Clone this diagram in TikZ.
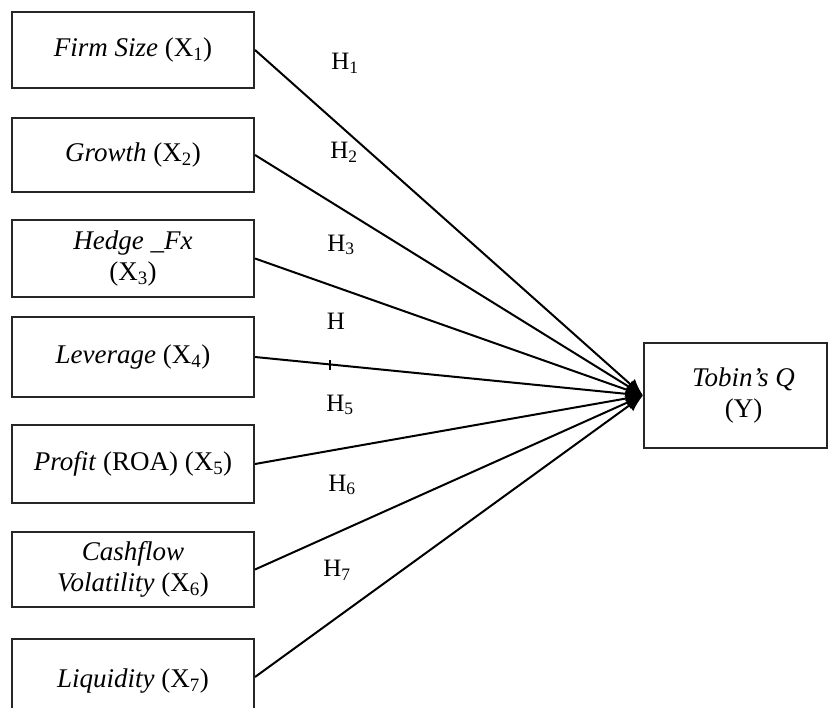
\documentclass[tikz,border=0pt]{standalone}
\usepackage{fontspec}
\setmainfont{Liberation Serif}
\usetikzlibrary{arrows.meta}
\begin{document}
\begin{tikzpicture}[x=1pt,y=-1pt,
  box/.style={draw=black!85, line width=2pt, minimum width=242pt, inner sep=0pt, align=center, font=\fontsize{27}{31}\selectfont},
  link/.style={line width=2pt, -{Latex[length=17pt,width=14pt]}},
  hlab/.style={inner sep=0pt, font=\fontsize{25}{29}\selectfont}]
\useasboundingbox (0,0) rectangle (830,708);
\node[box, minimum height=76pt] (b1) at (133,50) {\textit{Firm Size} (X\textsubscript{1})};
\node[box, minimum height=74pt] (b2) at (133,155) {\textit{Growth} (X\textsubscript{2})};
\node[box, minimum height=77pt] (b3) at (133,258.5) {\textit{Hedge \_Fx}\\(X\textsubscript{3})};
\node[box, minimum height=80pt] (b4) at (133,357) {\textit{Leverage} (X\textsubscript{4})};
\node[box, minimum height=78pt] (b5) at (133,464) {\textit{Profit} (ROA) (X\textsubscript{5})};
\node[box, minimum height=75pt] (b6) at (133,569.5) {\textit{Cashflow}\\\textit{Volatility} (X\textsubscript{6})};
\begin{scope}
\clip (0,0) rectangle (830,708);
\node[box, minimum height=76pt, text depth=0pt] (b7) at (133,677) {\raisebox{-3pt}{\textit{Liquidity} (X\textsubscript{7})}};
\end{scope}
\node[box, minimum width=183pt, minimum height=105pt] (y) at (735.5,395.5) {\hspace*{16pt}\textit{Tobin's Q}\\\hspace*{16pt}(Y)};
\foreach \b in {b1,b2,b3,b4,b5,b6,b7} \draw[link] (\b.east) -- (y.west);
\node[hlab] (h1) at (345,63) {H\textsubscript{1}};
\node[hlab] (h2) at (344,152) {H\textsubscript{2}};
\node[hlab] (h3) at (341,245) {H\textsubscript{3}};
\node[hlab] (h4) at (336,321) {H};
\node[hlab] (h5) at (340,405) {H\textsubscript{5}};
\node[hlab] (h6) at (342,485) {H\textsubscript{6}};
\node[hlab] (h7) at (337,570) {H\textsubscript{7}};
\coordinate (t) at (330,365);
\draw[line width=1.4pt] ([yshift=-5pt]t) -- ([yshift=5pt]t);
\end{tikzpicture}
\end{document}
